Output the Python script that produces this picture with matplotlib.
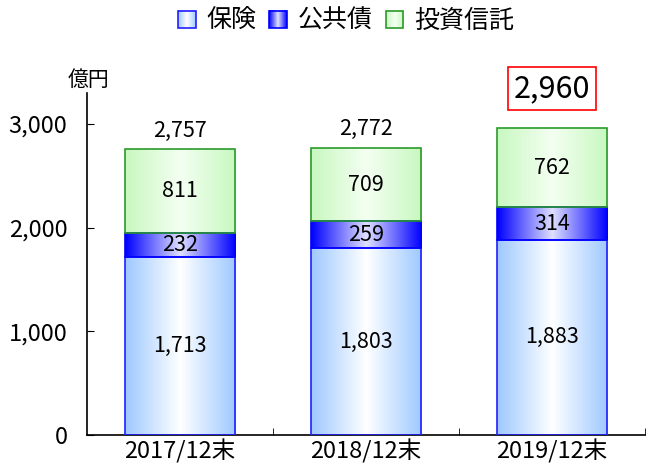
import numpy as np
import matplotlib
matplotlib.use('Agg')
import matplotlib.pyplot as plt
from matplotlib.colors import LinearSegmentedColormap
from matplotlib.legend_handler import HandlerBase
from matplotlib.patches import Rectangle
from matplotlib.image import BboxImage
from matplotlib.transforms import Bbox, TransformedBbox

plt.rcParams['font.family'] = ['Noto Sans CJK JP', 'DejaVu Sans']

# data
categories = ['2017/12末', '2018/12末', '2019/12末']
series_names = ['保険', '公共債', '投資信託']
hoken = [1713, 1803, 1883]
koukyousai = [232, 259, 314]
toushin = [811, 709, 762]
totals = [2757, 2772, 2960]

# gradient (edge -> centre -> edge) and border colours per series
grad_colors = [
    ['#9ec8ff', '#ffffff', '#9ec8ff'],
    ['#0000ff', '#e0e0ff', '#0000ff'],
    ['#c8f8c0', '#f4fff2', '#c8f8c0'],
]
edge_colors = ['#2020ff', '#0000ff', '#2a9a2a']

cmaps = [LinearSegmentedColormap.from_list('g%d' % i, c) for i, c in enumerate(grad_colors)]
grad = np.linspace(0, 1, 256).reshape(1, -1)

fig = plt.figure(figsize=(6.46, 4.70), dpi=100)
ax = fig.add_axes([0.1347, 0.0745, 0.8638, 0.7277])

x = np.arange(len(categories))
width = 0.595
bottom = np.zeros(len(categories))
for vals, cmap, ec in zip([hoken, koukyousai, toushin], cmaps, edge_colors):
    bars = ax.bar(x, vals, width, bottom=bottom, facecolor='none', edgecolor=ec, linewidth=1.2, zorder=3)
    for b, v in zip(bars, vals):
        x0, y0 = b.get_x(), b.get_y()
        im = ax.imshow(grad, cmap=cmap, aspect='auto', extent=(x0, x0 + b.get_width(), y0, y0 + v),
                       zorder=2, interpolation='bilinear')
        im.set_clip_path(b)
        ax.text(x0 + b.get_width() / 2, y0 + v / 2, f'{v:,}', ha='center', va='center',
                fontsize=15.5, zorder=4)
    bottom += np.array(vals)

# totals above the bars (the last one is boxed)
for i, t in enumerate(totals):
    if i == len(totals) - 1:
        ax.text(x[i], t + 380, f'{t:,}', ha='center', va='center', fontsize=22,
                bbox=dict(boxstyle='square,pad=0.2', facecolor='white', edgecolor='red', linewidth=1.2))
    else:
        ax.text(x[i], t + 180, f'{t:,}', ha='center', va='center', fontsize=15.5)

ax.set_xlim(-0.5, 2.5)
ax.set_ylim(0, 3300)
ax.set_yticks([0, 1000, 2000, 3000])
ax.set_yticklabels(['0', '1,000', '2,000', '3,000'], fontsize=17)
ax.set_xticks(x)
ax.set_xticklabels(categories, fontsize=17)
ax.set_xticks([0.5, 1.5, 2.5], minor=True)
ax.tick_params(axis='x', which='major', length=0, pad=3)
ax.tick_params(axis='x', which='minor', direction='in', length=5)
ax.tick_params(axis='y', direction='in', length=5, pad=14)
for s in ['top', 'right']:
    ax.spines[s].set_visible(False)
ax.spines['left'].set_linewidth(1.2)
ax.spines['bottom'].set_linewidth(1.2)

fig.text(0.105, 0.83, '億円', fontsize=15, va='center')


class HandlerGradient(HandlerBase):
    def __init__(self, cmap, ec):
        super().__init__()
        self.cmap = cmap
        self.ec = ec

    def create_artists(self, legend, orig_handle, xdescent, ydescent, width, height, fontsize, trans):
        s = height * 1.0
        x0 = -xdescent + (width - s) / 2
        y0 = -ydescent + (height - s) / 2
        bb = TransformedBbox(Bbox.from_bounds(x0, y0, s, s), trans)
        img = BboxImage(bb, cmap=self.cmap, interpolation='bilinear')
        img.set_data(grad)
        rect = Rectangle((x0, y0), s, s, facecolor='none', edgecolor=self.ec, linewidth=1.2, transform=trans)
        return [img, rect]


handles = [Rectangle((0, 0), 1, 1) for _ in series_names]
hmap = {h: HandlerGradient(c, e) for h, c, e in zip(handles, cmaps, edge_colors)}
fig.legend(handles, series_names, loc='center', bbox_to_anchor=(0.535, 0.955), ncol=3, frameon=False,
           fontsize=18, handler_map=hmap, handlelength=0.75, handletextpad=0.4, columnspacing=0.5)

fig.savefig('out.png', dpi=100)
